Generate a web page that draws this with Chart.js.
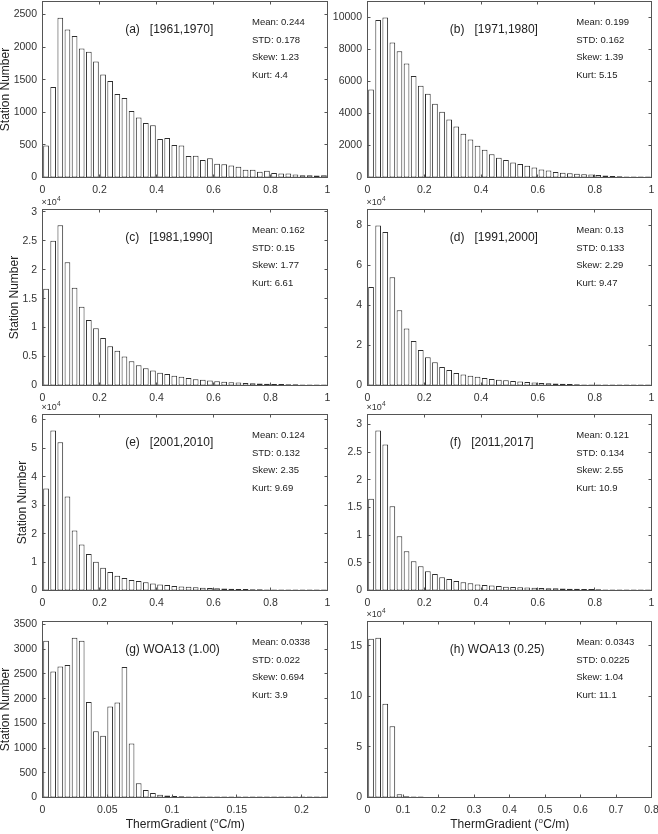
<!DOCTYPE html>
<html>
<head>
<meta charset="utf-8">
<script src="https://cdn.jsdelivr.net/npm/chart.js@4.4.0/dist/chart.umd.min.js"></script>
<style>
  html, body { margin: 0; padding: 0; background: #fff; overflow: hidden; }
  body { width: 658px; height: 834px; position: relative; }
  canvas { position: absolute; }
</style>
</head>
<body>
<script>
// station counts per bin, 40 bins per panel
const countsA = [490, 1390, 2450, 2270, 2170, 1980, 1930, 1780, 1580, 1480,
  1280, 1220, 1020, 920, 835, 800, 590, 605, 500, 490,
  330, 335, 270, 295, 210, 205, 185, 165, 120, 120,
  90, 105, 70, 60, 60, 45, 35, 35, 30, 35];
const countsB = [5500, 9850, 10000, 8430, 7890, 7130, 6340, 5740, 5230, 4610,
  4110, 3620, 3180, 2730, 2380, 1980, 1740, 1450, 1240, 1100,
  930, 850, 740, 620, 500, 430, 350, 300, 260, 240,
  200, 180, 150, 120, 100, 85, 70, 60, 50, 45];
const countsC = [16700, 25000, 27700, 21300, 16900, 13600, 11300, 9900, 8200, 6800,
  6000, 5000, 4200, 3500, 3000, 2600, 2200, 2000, 1700, 1500,
  1300, 1100, 1000, 850, 750, 650, 550, 500, 450, 400,
  350, 300, 280, 250, 200, 200, 180, 150, 120, 100];
const countsD = [49200, 80000, 76700, 54100, 37600, 28500, 22200, 17700, 14100, 11600,
  9300, 7800, 6300, 5500, 4900, 4400, 3800, 3300, 2900, 2600,
  2300, 2000, 1800, 1500, 1300, 1100, 1000, 850, 700, 600,
  500, 450, 400, 350, 300, 250, 220, 200, 180, 150];
const countsE = [35900, 56300, 52100, 33100, 21100, 16200, 12800, 10100, 8000, 6500,
  5200, 4400, 3700, 3300, 2900, 2500, 2100, 1900, 1600, 1400,
  1300, 1100, 1000, 900, 800, 700, 600, 550, 500, 450,
  400, 350, 300, 280, 250, 220, 200, 180, 150, 130];
const countsF = [16600, 28900, 26400, 15200, 9800, 7100, 5300, 4400, 3500, 3000,
  2400, 2100, 1700, 1500, 1300, 1100, 1000, 900, 800, 700,
  650, 600, 550, 500, 450, 400, 400, 350, 300, 300,
  280, 250, 220, 200, 200, 180, 150, 150, 120, 100];
const countsG = [3170, 2550, 2650, 2680, 3230, 3170, 1930, 1340, 1250, 1840,
  1920, 2640, 1090, 290, 150, 90, 55, 40, 30, 25,
  20, 15, 12, 10, 8, 7, 6, 5, 5, 4,
  4, 3, 3, 3, 2, 2, 2, 2, 2, 1];
const countsH = [157000, 158000, 92700, 70500, 3300, 1300, 500, 200, 0, 0,
  0, 0, 0, 0, 0, 0, 0, 0, 0, 0,
  0, 0, 0, 0, 0, 0, 0, 0, 0, 0,
  0, 0, 0, 0, 0, 0, 0, 0, 0, 0];

const allCounts = [countsA, countsB, countsC, countsD, countsE, countsF, countsG, countsH];
const panelTitles = ['(a)   [1961,1970]', '(b)   [1971,1980]', '(c)   [1981,1990]', '(d)   [1991,2000]',
  '(e)   [2001,2010]', '(f)   [2011,2017]', '(g) WOA13 (1.00)', '(h) WOA13 (0.25)'];
const statMean = ['0.244', '0.199', '0.162', '0.13', '0.124', '0.121', '0.0338', '0.0343'];
const statStd = ['0.178', '0.162', '0.15', '0.133', '0.132', '0.134', '0.022', '0.0225'];
const statSkew = ['1.23', '1.39', '1.77', '2.29', '2.35', '2.55', '0.694', '1.04'];
const statKurt = ['4.4', '5.15', '6.61', '9.47', '9.69', '10.9', '3.9', '11.1'];

// axis ranges and tick values
const xMaxes = [1, 1, 1, 1, 1, 1, 0.22, 0.8];
const xTicksDecade = [0, 0.2, 0.4, 0.6, 0.8, 1];
const xTicksG = [0, 0.05, 0.1, 0.15, 0.2];
const xTicksH = [0, 0.1, 0.2, 0.3, 0.4, 0.5, 0.6, 0.7, 0.8];
const xTicks = [xTicksDecade, xTicksDecade, xTicksDecade, xTicksDecade, xTicksDecade, xTicksDecade, xTicksG, xTicksH];
const yMaxes = [2700, 11000, 30400, 88000, 61900, 31800, 3560, 174000];
const yTicks = [
  [0, 500, 1000, 1500, 2000, 2500],
  [0, 2000, 4000, 6000, 8000, 10000],
  [0, 5000, 10000, 15000, 20000, 25000, 30000],
  [0, 20000, 40000, 60000, 80000],
  [0, 10000, 20000, 30000, 40000, 50000, 60000],
  [0, 5000, 10000, 15000, 20000, 25000, 30000],
  [0, 500, 1000, 1500, 2000, 2500, 3000, 3500],
  [0, 50000, 100000, 150000]
];
const yScaled = [false, false, true, true, true, true, false, true]; // shown as x10^4

const FONT = '"Liberation Sans", Arial, Helvetica, sans-serif';
const TXT = '#222';
const TICK_TXT = '#333';
const BOX = '#555';

// plot box positions on the page
const colLeft = [42.5, 367.5];
const colWidth = [285, 284];
const rowTop = [1.5, 209.5, 414.5, 621.5];
const plotH = 176;
const padL = 45.5, padT = 25.5, padB = 45.5;

function drawSup(ctx, base, sup, x, y, size, supSize, align) {
  ctx.font = `${size}px ${FONT}`;
  const wb = ctx.measureText(base.before).width;
  const wa = ctx.measureText(base.after).width;
  ctx.font = `${supSize}px ${FONT}`;
  const ws = ctx.measureText(sup).width;
  let x0 = x;
  if (align === 'center') x0 = x - (wb + ws + wa) / 2;
  ctx.textAlign = 'left';
  ctx.textBaseline = 'middle';
  ctx.font = `${size}px ${FONT}`;
  ctx.fillText(base.before, x0, y);
  ctx.font = `${supSize}px ${FONT}`;
  ctx.fillText(sup, x0 + wb + 0.3, y - size * 0.38);
  ctx.font = `${size}px ${FONT}`;
  ctx.fillText(base.after, x0 + wb + ws + 0.6, y);
}

const panelDeco = {
  id: 'panelDeco',
  afterDraw(chart, args, opts) {
    const ctx = chart.ctx;
    const { left, right, top, bottom } = chart.chartArea;
    const w = right - left;
    const xs = chart.scales.x, ys = chart.scales.y;
    ctx.save();
    ctx.strokeStyle = BOX;
    ctx.lineWidth = 1;
    ctx.strokeRect(left, top, w, bottom - top);
    ctx.beginPath();
    xs.ticks.forEach(t => {
      const px = Math.round(xs.getPixelForValue(t.value) - 0.5) + 0.5;
      ctx.moveTo(px, bottom); ctx.lineTo(px, bottom - 3);
      ctx.moveTo(px, top); ctx.lineTo(px, top + 3);
    });
    ys.ticks.forEach(t => {
      const py = Math.round(ys.getPixelForValue(t.value) - 0.5) + 0.5;
      ctx.moveTo(left, py); ctx.lineTo(left + 3, py);
      ctx.moveTo(right, py); ctx.lineTo(right - 3, py);
    });
    ctx.stroke();

    ctx.fillStyle = TXT;
    ctx.textBaseline = 'middle';
    ctx.textAlign = 'left';
    ctx.font = `12px ${FONT}`;
    ctx.fillText(opts.title, left + 0.29 * w, top + 28);
    ctx.font = `9.5px ${FONT}`;
    opts.stats.forEach((s, i) => ctx.fillText(s, left + 0.735 * w, top + 21 + i * 17.6));

    if (opts.exp) {
      ctx.fillStyle = TICK_TXT;
      drawSup(ctx, { before: '\u00d710', after: '' }, '4', left - 1, top - 7, 9, 6.5, 'left');
    }
    if (opts.yTitle) {
      ctx.font = `10.5px ${FONT}`;
      let widest = 0;
      ys.ticks.forEach(t => { widest = Math.max(widest, ctx.measureText(t.label).width); });
      const cx = left - 5.5 - widest - 8;
      ctx.save();
      ctx.translate(cx, (top + bottom) / 2);
      ctx.rotate(-Math.PI / 2);
      ctx.fillStyle = TXT;
      ctx.font = `12px ${FONT}`;
      ctx.textAlign = 'center';
      ctx.textBaseline = 'middle';
      ctx.fillText('Station Number', 0, 0);
      ctx.restore();
    }
    if (opts.xTitle) {
      ctx.fillStyle = TXT;
      drawSup(ctx, { before: 'ThermGradient (', after: 'C/m)' }, 'o', (left + right) / 2, bottom + 27.5, 12, 8, 'center');
    }
    ctx.restore();
  }
};

allCounts.forEach((counts, i) => {
  const col = i % 2, row = Math.floor(i / 2);
  const cv = document.createElement('canvas');
  const cLeft = Math.round(colLeft[col] - padL);
  const cTop = Math.round(rowTop[row] - padT);
  const cWidth = col === 0 ? 342 : 658 - cLeft;
  const cHeight = Math.round(padT + plotH + padB);
  const padR = cWidth - padL - colWidth[col];
  cv.width = cWidth; cv.height = cHeight;
  cv.style.left = cLeft + 'px'; cv.style.top = cTop + 'px';
  cv.style.width = cWidth + 'px'; cv.style.height = cHeight + 'px';
  document.body.appendChild(cv);

  const binW = xMaxes[i] / counts.length;
  // empty bins are left undrawn; tiny ones still show as a short dash
  const pts = counts.map((c, k) => ({ x: (k + 0.5) * binW, y: c > 0 ? c : null }));
  const scaled = yScaled[i];

  new Chart(cv, {
    type: 'bar',
    data: {
      datasets: [{
        data: pts,
        backgroundColor: '#ffffff',
        borderColor: '#2e2e2e',
        borderWidth: 1,
        borderSkipped: false,
        minBarLength: 1,
        barPercentage: 0.8,
        categoryPercentage: 1
      }]
    },
    options: {
      responsive: false,
      animation: false,
      events: [],
      layout: { padding: { top: padT, right: padR, left: 0, bottom: 0 } },
      plugins: {
        legend: { display: false },
        tooltip: { enabled: false },
        panelDeco: {
          title: panelTitles[i],
          stats: ['Mean: ' + statMean[i], 'STD: ' + statStd[i], 'Skew: ' + statSkew[i], 'Kurt: ' + statKurt[i]],
          exp: scaled,
          yTitle: col === 0,
          xTitle: row === 3
        }
      },
      scales: {
        x: {
          type: 'linear',
          offset: false,
          min: 0,
          max: xMaxes[i],
          grid: { display: false, drawTicks: false },
          border: { display: false },
          afterBuildTicks: s => { s.ticks = xTicks[i].map(v => ({ value: v })); },
          ticks: {
            autoSkip: false,
            maxRotation: 0,
            padding: 6,
            color: TICK_TXT,
            font: { family: FONT, size: 10.5 },
            callback: v => String(+v.toFixed(3))
          },
          afterFit: s => { s.height = padB; s.paddingLeft = 0; s.paddingRight = 0; }
        },
        y: {
          min: 0,
          max: yMaxes[i],
          grid: { display: false, drawTicks: false },
          border: { display: false },
          afterBuildTicks: s => { s.ticks = yTicks[i].map(v => ({ value: v })); },
          ticks: {
            autoSkip: false,
            padding: 5.5,
            color: TICK_TXT,
            font: { family: FONT, size: 10.5 },
            callback: v => scaled ? String(+(v / 1e4).toFixed(2)) : String(v)
          },
          afterFit: s => { s.width = padL; }
        }
      }
    },
    plugins: [panelDeco]
  });
});
</script>
</body>
</html>
